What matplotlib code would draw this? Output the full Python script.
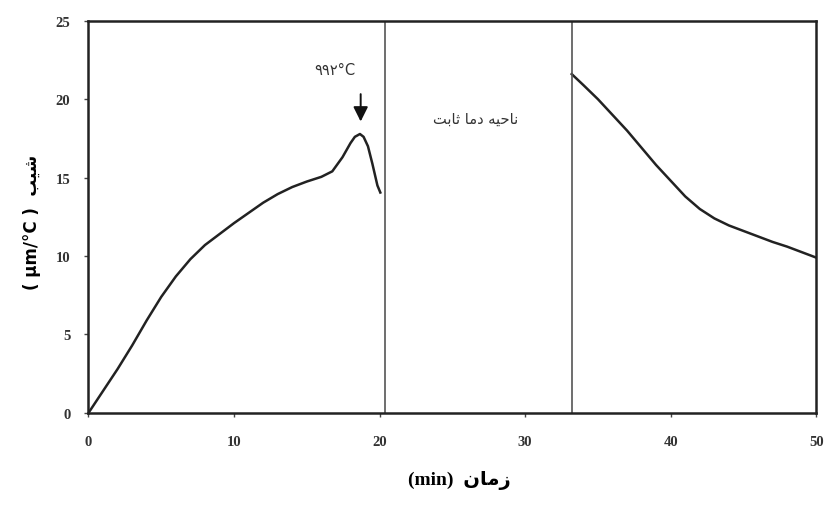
import matplotlib
matplotlib.use("Agg")
import matplotlib.pyplot as plt

# heating part (min, slope)
x_heat = [0, 1, 2, 3, 4, 5, 6, 7, 8, 9, 10, 11, 12, 13, 14, 15, 16, 16.75,
          17.45, 18.0, 18.3, 18.65, 18.9, 19.2, 19.5, 19.85, 20.05]
y_heat = [0, 1.4, 2.8, 4.3, 5.9, 7.4, 8.7, 9.8, 10.7, 11.4, 12.1, 12.75,
          13.4, 13.95, 14.4, 14.75, 15.05, 15.4, 16.3, 17.2, 17.6, 17.78,
          17.6, 17.0, 15.9, 14.5, 14.05]

# cooling part
x_cool = [33.2, 34, 35, 36, 37, 38, 39, 40, 41, 42, 43, 44, 45, 46, 47, 48, 49, 50]
y_cool = [21.6, 20.9, 20.0, 19.0, 18.0, 16.9, 15.8, 14.8, 13.8, 13.0, 12.4,
          11.95, 11.6, 11.25, 10.9, 10.6, 10.25, 9.9]

# boundaries of the constant-temperature zone
zone_lines = [20.4, 33.2]
peak_x, peak_y = 18.7, 18.4

xticks = [0, 10, 20, 30, 40, 50]
yticks = [0, 5, 10, 15, 20, 25]

# persian strings, written in visual order with presentation forms
zaman = "\uFEE5\uFE8E\uFEE3\uFEAF"
shib = "\uFE90\uFEF4\uFEB7"
zone_txt = "\uFE96\uFE91\uFE8E\uFE9B \uFE8E\uFEE3\uFEA9 \uFEEA\uFEF4\uFEA3\uFE8E\uFEE7"
peak_txt = "\u06F9\u06F9\u06F2\u00B0C"

fig = plt.figure(figsize=(8.27, 5.06), dpi=100)
ax = fig.add_axes([0.107, 0.182, 0.880, 0.775])

ax.plot(x_heat, y_heat, color="#222222", lw=1.8)
ax.plot(x_cool, y_cool, color="#222222", lw=1.8)
for xv in zone_lines:
    ax.axvline(xv, color="#555555", lw=1.2)

ax.set_xlim(0, 50)
ax.set_ylim(0, 25)
ax.set_xticks(xticks)
ax.set_yticks(yticks)
for s in ax.spines.values():
    s.set_linewidth(1.8)
    s.set_color("#222222")
ax.tick_params(direction="out", length=3, width=1, colors="#444444", labelcolor="#333333")
for lab in ax.get_xticklabels() + ax.get_yticklabels():
    lab.set_family("Liberation Serif")
    lab.set_fontweight("bold")
    lab.set_fontsize(10.5)
ax.tick_params(axis="x", pad=13)
ax.tick_params(axis="y", pad=10)

ax.annotate("", xy=(peak_x, peak_y), xytext=(peak_x, 20.5),
            arrowprops=dict(arrowstyle="-|>", color="#111111", lw=1.4,
                            mutation_scale=22))
ax.text(16.9, 21.9, peak_txt, ha="center", va="center", fontsize=10.5,
        family=["DejaVu Sans"], color="#333333")
ax.text(26.6, 18.8, zone_txt, ha="center", va="center", fontsize=10.5,
        family=["DejaVu Sans"], color="#333333")

fig.text(0.556, 0.051, "(min)  " + zaman, ha="center", va="center", fontsize=14,
         fontweight="bold", family=["Liberation Serif", "DejaVu Sans"])
fig.text(0.039, 0.56, "( \u03bcm/\u00b0C )  " + shib, ha="center", va="center",
         rotation=90, fontsize=12, fontweight="bold", family=["DejaVu Sans"])

fig.savefig("out.png", dpi=100)
